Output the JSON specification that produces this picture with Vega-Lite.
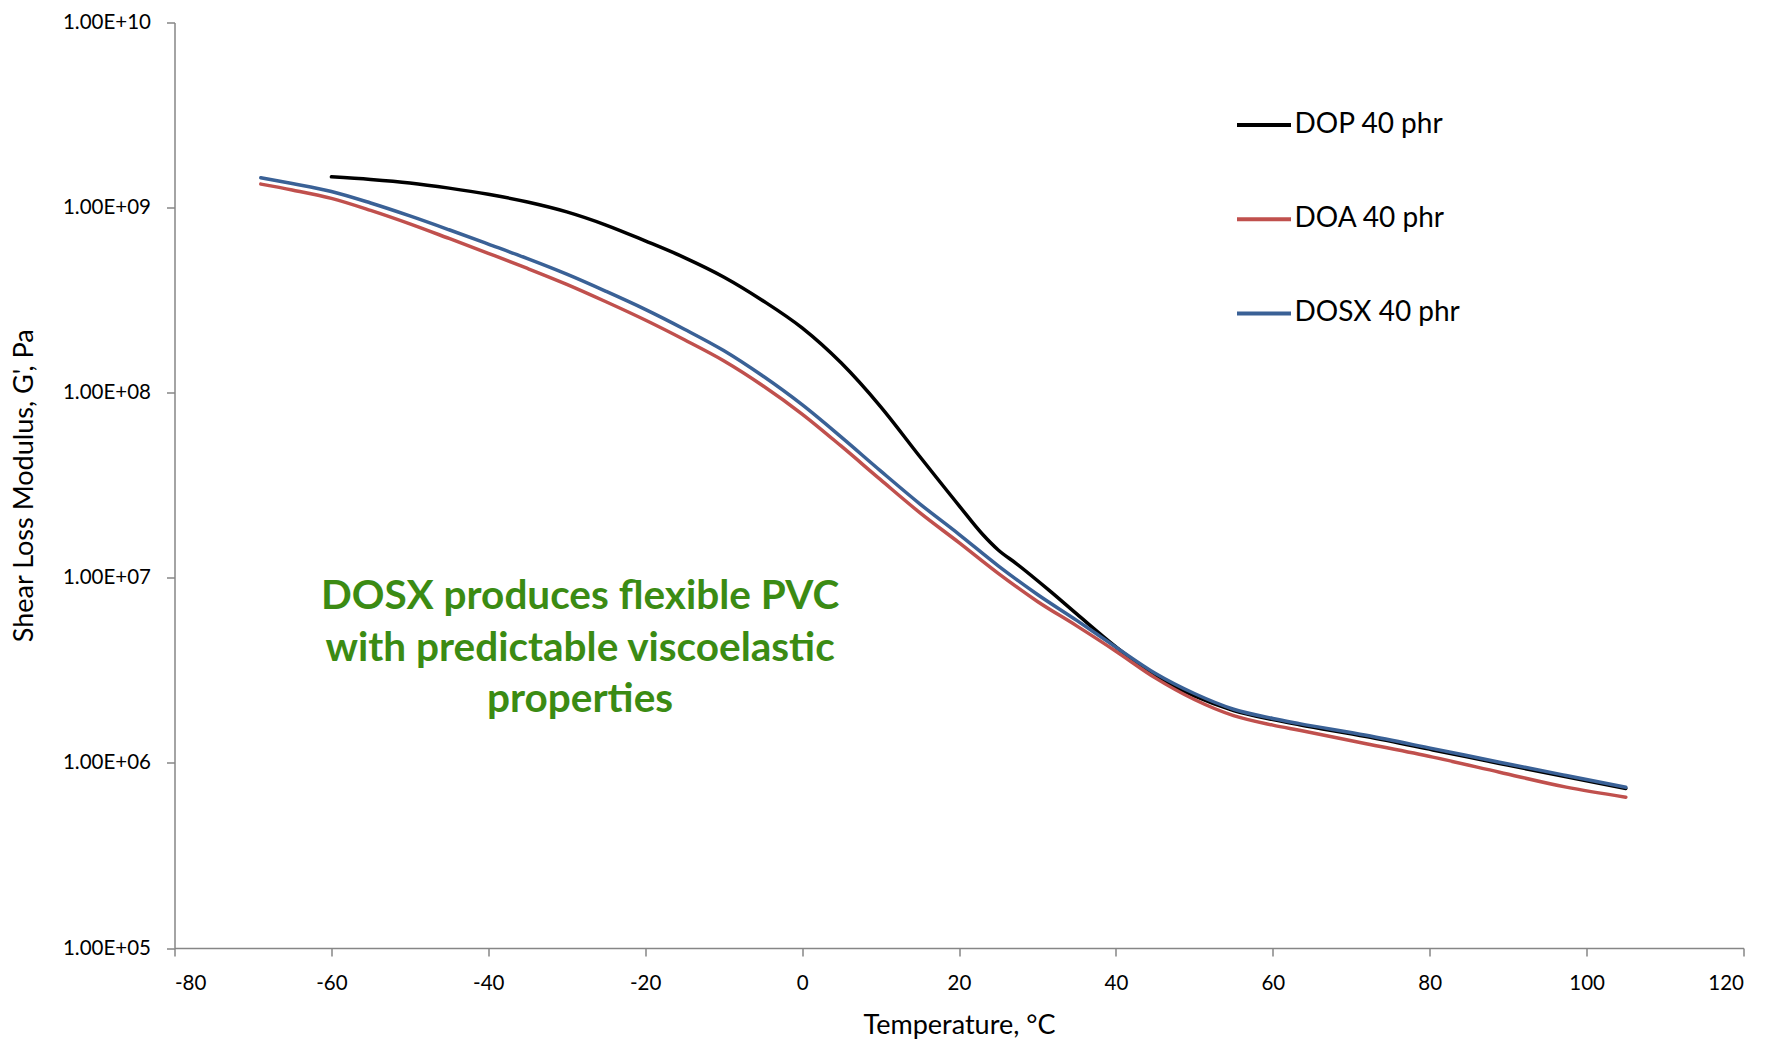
{
  "$schema": "https://vega.github.io/schema/vega-lite/v6.json",
  "width": 1569,
  "height": 925.5,
  "autosize": "none",
  "padding": {"left": 174.5, "top": 22.5, "right": 23.5, "bottom": 92},
  "background": "white",
  "config": {
    "view": {"stroke": null},
    "font": "Lato",
    "axis": {
      "domainColor": "#868686",
      "tickColor": "#868686",
      "domainWidth": 1.5,
      "tickWidth": 1.5,
      "tickSize": 8,
      "grid": false,
      "labelFont": "Lato",
      "labelFontSize": 20.5,
      "labelColor": "#000000",
      "titleFont": "Lato",
      "titleFontSize": 27,
      "titleFontWeight": "normal",
      "titleColor": "#000000"
    }
  },
  "layer": [
    {
      "data": {
        "values": [
          {"s": "DOP 40 phr", "t": -60, "g": 1466000000},
          {"s": "DOP 40 phr", "t": -55, "g": 1419000000},
          {"s": "DOP 40 phr", "t": -50, "g": 1358000000},
          {"s": "DOP 40 phr", "t": -45, "g": 1274000000},
          {"s": "DOP 40 phr", "t": -40, "g": 1180000000},
          {"s": "DOP 40 phr", "t": -35, "g": 1072000000},
          {"s": "DOP 40 phr", "t": -30, "g": 948000000},
          {"s": "DOP 40 phr", "t": -25, "g": 805000000},
          {"s": "DOP 40 phr", "t": -20, "g": 661000000},
          {"s": "DOP 40 phr", "t": -15, "g": 537000000},
          {"s": "DOP 40 phr", "t": -10, "g": 422000000},
          {"s": "DOP 40 phr", "t": -5, "g": 314100000},
          {"s": "DOP 40 phr", "t": 0, "g": 223900000},
          {"s": "DOP 40 phr", "t": 5, "g": 144500000},
          {"s": "DOP 40 phr", "t": 10, "g": 84100000},
          {"s": "DOP 40 phr", "t": 15, "g": 45200000},
          {"s": "DOP 40 phr", "t": 20, "g": 24550000},
          {"s": "DOP 40 phr", "t": 23, "g": 17180000},
          {"s": "DOP 40 phr", "t": 25, "g": 14130000},
          {"s": "DOP 40 phr", "t": 27.3, "g": 11940000},
          {"s": "DOP 40 phr", "t": 31.5, "g": 8550000},
          {"s": "DOP 40 phr", "t": 35, "g": 6380000},
          {"s": "DOP 40 phr", "t": 40, "g": 4230000},
          {"s": "DOP 40 phr", "t": 45, "g": 2950000},
          {"s": "DOP 40 phr", "t": 50, "g": 2300000},
          {"s": "DOP 40 phr", "t": 55, "g": 1920000},
          {"s": "DOP 40 phr", "t": 60, "g": 1714000},
          {"s": "DOP 40 phr", "t": 63.4, "g": 1607000},
          {"s": "DOP 40 phr", "t": 71.9, "g": 1387000},
          {"s": "DOP 40 phr", "t": 80.4, "g": 1175000},
          {"s": "DOP 40 phr", "t": 88.9, "g": 993000},
          {"s": "DOP 40 phr", "t": 97.4, "g": 841000},
          {"s": "DOP 40 phr", "t": 105, "g": 728000},
          {"s": "DOA 40 phr", "t": -69, "g": 1340000000},
          {"s": "DOA 40 phr", "t": -65, "g": 1245000000},
          {"s": "DOA 40 phr", "t": -60, "g": 1122000000},
          {"s": "DOA 40 phr", "t": -55, "g": 966000000},
          {"s": "DOA 40 phr", "t": -50, "g": 817000000},
          {"s": "DOA 40 phr", "t": -45, "g": 681000000},
          {"s": "DOA 40 phr", "t": -40, "g": 566000000},
          {"s": "DOA 40 phr", "t": -35, "g": 469000000},
          {"s": "DOA 40 phr", "t": -30, "g": 385000000},
          {"s": "DOA 40 phr", "t": -25, "g": 310000000},
          {"s": "DOA 40 phr", "t": -20, "g": 247000000},
          {"s": "DOA 40 phr", "t": -15, "g": 193200000},
          {"s": "DOA 40 phr", "t": -10, "g": 148900000},
          {"s": "DOA 40 phr", "t": -5, "g": 109100000},
          {"s": "DOA 40 phr", "t": 0, "g": 76700000},
          {"s": "DOA 40 phr", "t": 5, "g": 51400000},
          {"s": "DOA 40 phr", "t": 10, "g": 33900000},
          {"s": "DOA 40 phr", "t": 15, "g": 22500000},
          {"s": "DOA 40 phr", "t": 20, "g": 15490000},
          {"s": "DOA 40 phr", "t": 25, "g": 10570000},
          {"s": "DOA 40 phr", "t": 30, "g": 7450000},
          {"s": "DOA 40 phr", "t": 35, "g": 5500000},
          {"s": "DOA 40 phr", "t": 40, "g": 4010000},
          {"s": "DOA 40 phr", "t": 45, "g": 2880000},
          {"s": "DOA 40 phr", "t": 50, "g": 2200000},
          {"s": "DOA 40 phr", "t": 55, "g": 1800000},
          {"s": "DOA 40 phr", "t": 60, "g": 1600000},
          {"s": "DOA 40 phr", "t": 63.4, "g": 1500000},
          {"s": "DOA 40 phr", "t": 71.9, "g": 1270000},
          {"s": "DOA 40 phr", "t": 80.4, "g": 1074000},
          {"s": "DOA 40 phr", "t": 88.9, "g": 891000},
          {"s": "DOA 40 phr", "t": 97.4, "g": 740000},
          {"s": "DOA 40 phr", "t": 105, "g": 653000},
          {"s": "DOSX 40 phr", "t": -69, "g": 1449000000},
          {"s": "DOSX 40 phr", "t": -65, "g": 1349000000},
          {"s": "DOSX 40 phr", "t": -60, "g": 1222000000},
          {"s": "DOSX 40 phr", "t": -55, "g": 1059000000},
          {"s": "DOSX 40 phr", "t": -50, "g": 902000000},
          {"s": "DOSX 40 phr", "t": -45, "g": 759000000},
          {"s": "DOSX 40 phr", "t": -40, "g": 635000000},
          {"s": "DOSX 40 phr", "t": -35, "g": 530000000},
          {"s": "DOSX 40 phr", "t": -30, "g": 437000000},
          {"s": "DOSX 40 phr", "t": -25, "g": 353000000},
          {"s": "DOSX 40 phr", "t": -20, "g": 282000000},
          {"s": "DOSX 40 phr", "t": -15, "g": 220300000},
          {"s": "DOSX 40 phr", "t": -10, "g": 169000000},
          {"s": "DOSX 40 phr", "t": -5, "g": 123000000},
          {"s": "DOSX 40 phr", "t": 0, "g": 86100000},
          {"s": "DOSX 40 phr", "t": 5, "g": 57500000},
          {"s": "DOSX 40 phr", "t": 10, "g": 37800000},
          {"s": "DOSX 40 phr", "t": 15, "g": 25100000},
          {"s": "DOSX 40 phr", "t": 20, "g": 17180000},
          {"s": "DOSX 40 phr", "t": 25, "g": 11610000},
          {"s": "DOSX 40 phr", "t": 30, "g": 8130000},
          {"s": "DOSX 40 phr", "t": 35, "g": 5890000},
          {"s": "DOSX 40 phr", "t": 40, "g": 4220000},
          {"s": "DOSX 40 phr", "t": 45, "g": 3050000},
          {"s": "DOSX 40 phr", "t": 50, "g": 2370000},
          {"s": "DOSX 40 phr", "t": 55, "g": 1950000},
          {"s": "DOSX 40 phr", "t": 60, "g": 1738000},
          {"s": "DOSX 40 phr", "t": 63.4, "g": 1630000},
          {"s": "DOSX 40 phr", "t": 71.9, "g": 1410000},
          {"s": "DOSX 40 phr", "t": 80.4, "g": 1194000},
          {"s": "DOSX 40 phr", "t": 88.9, "g": 1009000},
          {"s": "DOSX 40 phr", "t": 97.4, "g": 855000},
          {"s": "DOSX 40 phr", "t": 105, "g": 738000}
        ]
      },
      "mark": {"type": "line", "interpolate": "monotone", "strokeWidth": 3.5, "strokeCap": "round", "strokeJoin": "round"},
      "encoding": {
        "x": {
          "field": "t",
          "type": "quantitative",
          "scale": {"domain": [-80, 120], "nice": false, "zero": false},
          "axis": {
            "title": "Temperature, °C",
            "values": [-80, -60, -40, -20, 0, 20, 40, 60, 80, 100, 120],
            "labelExpr": "'' + datum.value",
            "labelPadding": 17,
            "titleY": 77.6,
            "titleBaseline": "middle"
          }
        },
        "y": {
          "field": "g",
          "type": "quantitative",
          "scale": {"type": "log", "domain": [100000, 10000000000], "nice": false},
          "axis": {
            "title": "Shear Loss Modulus, G', Pa",
            "values": [100000, 1000000, 10000000, 100000000, 1000000000, 10000000000],
            "labelExpr": "'1.00E+' + (round(log(datum.value)/LN10) < 10 ? '0' : '') + round(log(datum.value)/LN10)",
            "labelPadding": 16,
            "titleX": -150,
            "titleY": 462.75,
            "titleAlign": "center",
            "titleBaseline": "middle",
            "titleAngle": -90
          }
        },
        "color": {
          "field": "s",
          "type": "nominal",
          "sort": ["DOP 40 phr", "DOA 40 phr", "DOSX 40 phr"],
          "scale": {"domain": ["DOP 40 phr", "DOA 40 phr", "DOSX 40 phr"], "range": ["#000000", "#C0504D", "#3A6196"]},
          "legend": {
            "title": null,
            "orient": "none",
            "legendX": 1060.5,
            "legendY": 73.5,
            "padding": 0,
            "symbolType": "stroke",
            "symbolSize": 2916,
            "symbolStrokeWidth": 4,
            "labelFont": "Lato",
            "labelFontSize": 28,
            "labelColor": "#000000",
            "labelOffset": 1.5,
            "rowPadding": 51.2,
            "labelLimit": 400
          }
        }
      }
    },
    {
      "data": {
        "values": [
          {"t": -28.3, "g": 7870000, "label": ["DOSX produces flexible PVC", "with predictable viscoelastic", "properties"]}
        ]
      },
      "mark": {"type": "text", "font": "Lato", "fontWeight": "bold", "fontSize": 40.5, "color": "#3B8B13", "align": "center", "baseline": "middle", "lineHeight": 51.5},
      "encoding": {
        "x": {"field": "t", "type": "quantitative"},
        "y": {"field": "g", "type": "quantitative"},
        "text": {"field": "label"}
      }
    }
  ]
}
